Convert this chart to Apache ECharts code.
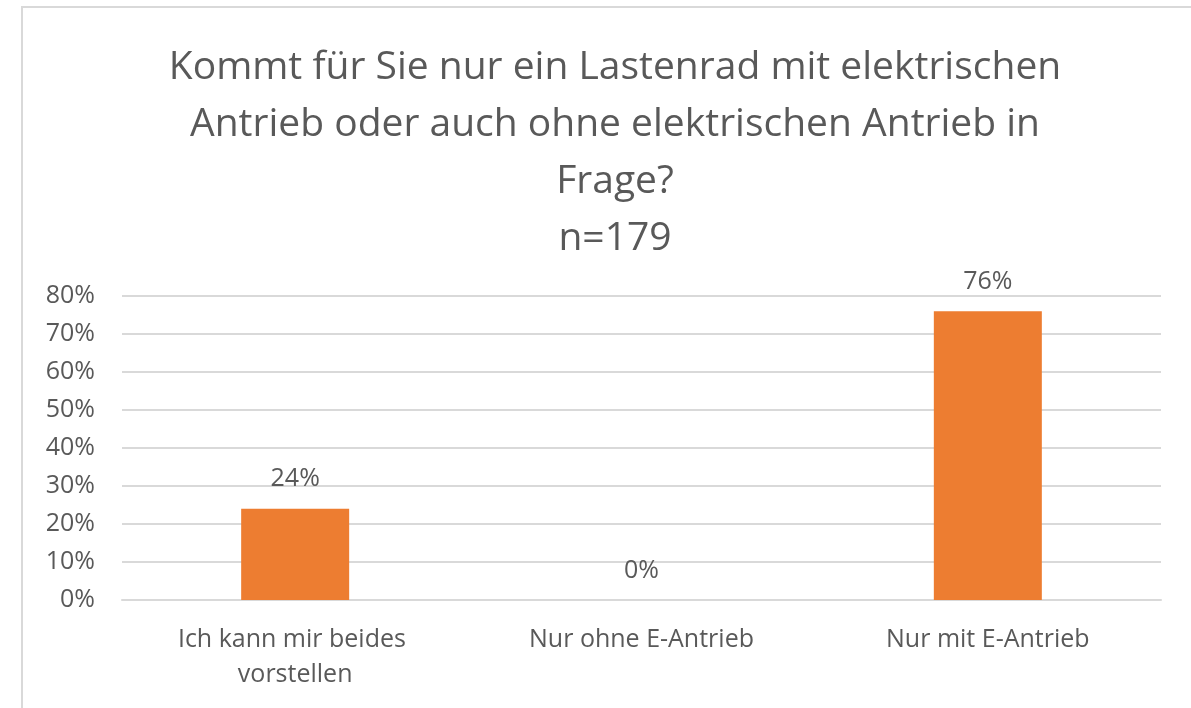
<!DOCTYPE html>
<html>
<head>
<meta charset="utf-8">
<script src="https://cdn.jsdelivr.net/npm/echarts@6/dist/echarts.min.js"></script>
<style>
  html, body { margin: 0; padding: 0; background: #fff; }
  #frame { position: absolute; left: 21px; top: 6px; width: 1170px; height: 702px;
           border-top: 2px solid #d9d9d9; border-left: 2px solid #d9d9d9; box-sizing: border-box; }
  #chart { position: absolute; left: 0; top: 0; width: 1191px; height: 708px; }
</style>
</head>
<body>
<div id="frame"></div>
<div id="chart"></div>
<script>
// Kategorien und Anteile (in %)
const categories = ['Ich kann mir beides vorstellen', 'Nur ohne E-Antrieb', 'Nur mit E-Antrieb']
const shares = [24, 0, 76]
const titleText = 'Kommt für Sie nur ein Lastenrad mit elektrischen\nAntrieb oder auch ohne elektrischen Antrieb in\nFrage?\nn=179'

const font = '"Open Sans", "Noto Sans", sans-serif'
const grey = '#595959'

const chart = echarts.init(document.getElementById('chart'))

chart.setOption({
  animation: false,
  title: {
    text: titleText,
    left: 610,
    top: 34,
    textAlign: 'center',
    textStyle: { fontFamily: font, fontSize: 39, fontWeight: 'normal', color: grey, lineHeight: 57 }
  },
  grid: { left: 122, right: 30, top: 296, bottom: 108 },
  xAxis: {
    type: 'category',
    data: categories,
    axisLine: { lineStyle: { color: '#d9d9d9', width: 2 } },
    axisTick: { show: false },
    axisLabel: {
      interval: 0,
      hideOverlap: false,
      margin: 22,
      width: 260,
      overflow: 'break',
      lineHeight: 35,
      fontFamily: font, fontSize: 25, color: grey
    }
  },
  yAxis: {
    type: 'value',
    min: 0,
    max: 80,
    interval: 10,
    axisLine: { show: false },
    axisTick: { show: false },
    splitLine: { lineStyle: { color: '#d9d9d9', width: 2 } },
    axisLabel: { margin: 27, formatter: '{value}%', fontFamily: font, fontSize: 25, color: grey }
  },
  series: [{
    type: 'bar',
    data: shares,
    barWidth: 108,
    itemStyle: { color: '#ED7D31' },
    label: {
      show: true,
      position: 'top',
      distance: 17,
      formatter: '{c}%',
      fontFamily: font, fontSize: 25, color: grey
    }
  }]
})

window.addEventListener('resize', () => chart.resize())
</script>
</body>
</html>
